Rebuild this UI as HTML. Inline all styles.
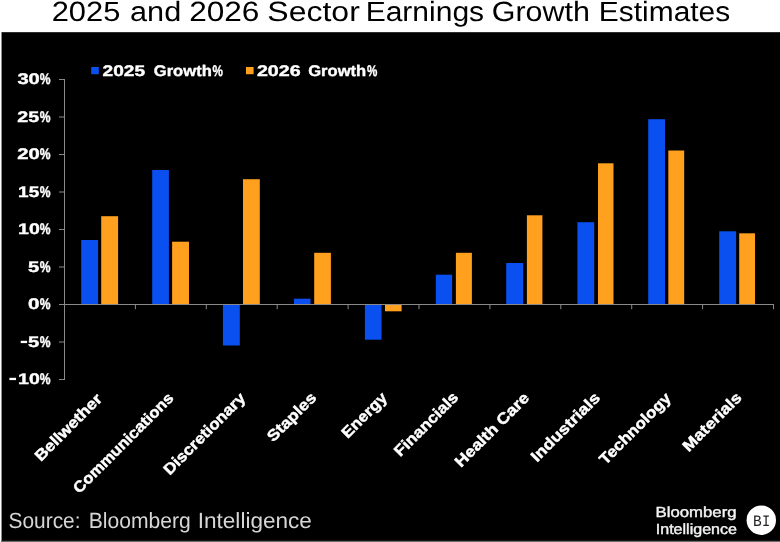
<!DOCTYPE html>
<html><head><meta charset="utf-8"><title>2025 and 2026 Sector Earnings Growth Estimates</title>
<style>
html,body{margin:0;padding:0;background:#fff;}
body{width:780px;height:542px;overflow:hidden;font-family:"Liberation Sans",sans-serif;}
svg{display:block;will-change:transform;}
text{font-family:"Liberation Sans",sans-serif;text-rendering:geometricPrecision;}
</style></head><body>
<svg width="780" height="542" viewBox="0 0 780 542">
<rect x="0" y="0" width="780" height="542" fill="#ffffff"/>
<rect x="1" y="32.3" width="779" height="509.7" fill="#6a6a6a"/>
<rect x="1" y="32.3" width="1" height="508.5" fill="#8c8c8c"/>
<rect x="2" y="32.3" width="778" height="508.5" fill="#000000"/>
<g>
<text x="51.7" y="21" font-size="27.8" fill="#000" textLength="68.66" lengthAdjust="spacingAndGlyphs">2025</text>
<text x="130.07" y="21" font-size="27.8" fill="#000" textLength="51.13" lengthAdjust="spacingAndGlyphs">and</text>
<text x="189.16" y="21" font-size="27.8" fill="#000" textLength="70.28" lengthAdjust="spacingAndGlyphs">2026</text>
<text x="267.36" y="21" font-size="27.8" fill="#000" textLength="92.45" lengthAdjust="spacingAndGlyphs">Sector</text>
<text x="365.67" y="21" font-size="27.8" fill="#000" textLength="118.47" lengthAdjust="spacingAndGlyphs">Earnings</text>
<text x="491.72" y="21" font-size="27.8" fill="#000" textLength="98.1" lengthAdjust="spacingAndGlyphs">Growth</text>
<text x="598.88" y="21" font-size="27.8" fill="#000" textLength="131.3" lengthAdjust="spacingAndGlyphs">Estimates</text>
</g>
<g fill="#8a8a8a">
<rect x="64" y="79" width="1" height="301"/>
<rect x="59" y="79.0" width="5" height="1"/>
<rect x="59" y="116.5" width="5" height="1"/>
<rect x="59" y="154.0" width="5" height="1"/>
<rect x="59" y="191.5" width="5" height="1"/>
<rect x="59" y="229.0" width="5" height="1"/>
<rect x="59" y="266.5" width="5" height="1"/>
<rect x="59" y="304.0" width="5" height="1"/>
<rect x="59" y="341.5" width="5" height="1"/>
<rect x="59" y="379.0" width="5" height="1"/>
<rect x="64" y="304" width="710" height="1"/>
<rect x="134.9" y="305" width="1" height="4.2"/>
<rect x="205.8" y="305" width="1" height="4.2"/>
<rect x="276.7" y="305" width="1" height="4.2"/>
<rect x="347.6" y="305" width="1" height="4.2"/>
<rect x="418.5" y="305" width="1" height="4.2"/>
<rect x="489.4" y="305" width="1" height="4.2"/>
<rect x="560.3" y="305" width="1" height="4.2"/>
<rect x="631.2" y="305" width="1" height="4.2"/>
<rect x="702.1" y="305" width="1" height="4.2"/>
<rect x="773.0" y="305" width="1" height="4.2"/>
</g>
<rect x="81.2" y="240.0" width="16.9" height="64.0" fill="#0a50f0"/>
<rect x="101.2" y="216.2" width="16.9" height="87.8" fill="#ffa01e"/>
<rect x="152.2" y="170.0" width="16.7" height="134.0" fill="#0a50f0"/>
<rect x="172.1" y="241.7" width="16.9" height="62.3" fill="#ffa01e"/>
<rect x="222.9" y="305" width="16.9" height="40.5" fill="#0a50f0"/>
<rect x="243.0" y="179.2" width="16.8" height="124.8" fill="#ffa01e"/>
<rect x="294.0" y="298.7" width="16.5" height="5.3" fill="#0a50f0"/>
<rect x="314.2" y="252.8" width="16.7" height="51.2" fill="#ffa01e"/>
<rect x="364.9" y="305" width="16.6" height="34.7" fill="#0a50f0"/>
<rect x="385.0" y="305" width="16.6" height="6.3" fill="#ffa01e"/>
<rect x="435.8" y="274.7" width="16.3" height="29.3" fill="#0a50f0"/>
<rect x="455.9" y="252.8" width="16.0" height="51.2" fill="#ffa01e"/>
<rect x="506.2" y="263.0" width="17.0" height="41.0" fill="#0a50f0"/>
<rect x="526.9" y="215.3" width="15.5" height="88.7" fill="#ffa01e"/>
<rect x="577.4" y="222.2" width="16.8" height="81.8" fill="#0a50f0"/>
<rect x="598.0" y="163.3" width="15.5" height="140.7" fill="#ffa01e"/>
<rect x="648.2" y="119.2" width="16.8" height="184.8" fill="#0a50f0"/>
<rect x="668.3" y="150.5" width="15.9" height="153.5" fill="#ffa01e"/>
<rect x="719.2" y="231.3" width="16.9" height="72.7" fill="#0a50f0"/>
<rect x="739.2" y="233.3" width="15.8" height="70.7" fill="#ffa01e"/>
<g font-weight="bold" stroke="#fff" stroke-width="0.4">
<text x="17.4" y="84" font-size="15.4" fill="#fff" textLength="22.42" lengthAdjust="spacingAndGlyphs">30</text>
<text x="39.66" y="84" font-size="15.4" fill="#fff" textLength="10.76" lengthAdjust="spacingAndGlyphs">%</text>
<text x="17.34" y="122" font-size="15.4" fill="#fff" textLength="21.9" lengthAdjust="spacingAndGlyphs">25</text>
<text x="39.66" y="122" font-size="15.4" fill="#fff" textLength="10.76" lengthAdjust="spacingAndGlyphs">%</text>
<text x="17.33" y="159" font-size="15.4" fill="#fff" textLength="22.5" lengthAdjust="spacingAndGlyphs">20</text>
<text x="39.66" y="159" font-size="15.4" fill="#fff" textLength="10.76" lengthAdjust="spacingAndGlyphs">%</text>
<text x="18.11" y="197" font-size="15.4" fill="#fff" textLength="21.13" lengthAdjust="spacingAndGlyphs">15</text>
<text x="39.66" y="197" font-size="15.4" fill="#fff" textLength="10.76" lengthAdjust="spacingAndGlyphs">%</text>
<text x="18.08" y="234" font-size="15.4" fill="#fff" textLength="21.72" lengthAdjust="spacingAndGlyphs">10</text>
<text x="39.66" y="234" font-size="15.4" fill="#fff" textLength="10.76" lengthAdjust="spacingAndGlyphs">%</text>
<text x="28.1" y="272" font-size="15.4" fill="#fff" textLength="11.27" lengthAdjust="spacingAndGlyphs">5</text>
<text x="39.66" y="272" font-size="15.4" fill="#fff" textLength="10.76" lengthAdjust="spacingAndGlyphs">%</text>
<text x="28.07" y="309" font-size="15.4" fill="#fff" textLength="11.51" lengthAdjust="spacingAndGlyphs">0</text>
<text x="39.66" y="309" font-size="15.4" fill="#fff" textLength="10.76" lengthAdjust="spacingAndGlyphs">%</text>
<text x="28.1" y="347" font-size="15.4" fill="#fff" textLength="11.27" lengthAdjust="spacingAndGlyphs">5</text>
<text x="39.66" y="347" font-size="15.4" fill="#fff" textLength="10.76" lengthAdjust="spacingAndGlyphs">%</text>
<rect x="20.7" y="340.8" width="6.4" height="2.3" fill="#fff" stroke="none"/>
<text x="18.08" y="384" font-size="15.4" fill="#fff" textLength="21.72" lengthAdjust="spacingAndGlyphs">10</text>
<text x="39.66" y="384" font-size="15.4" fill="#fff" textLength="10.76" lengthAdjust="spacingAndGlyphs">%</text>
<rect x="9.4" y="377.8" width="6.6" height="2.3" fill="#fff" stroke="none"/>
</g>
<rect x="91.2" y="67" width="7.6" height="7.2" fill="#0a50f0"/>
<rect x="246" y="67" width="7.6" height="7.2" fill="#ffa01e"/>
<g font-weight="bold" stroke="#fff" stroke-width="0.4">
<text x="102.56" y="76" font-size="15.4" fill="#fff" textLength="42.56" lengthAdjust="spacingAndGlyphs">2025</text>
<text x="153.79" y="76" font-size="15.4" fill="#fff" textLength="58.0" lengthAdjust="spacingAndGlyphs">Growth</text>
<text x="212.57" y="76" font-size="15.4" fill="#fff" textLength="10.34" lengthAdjust="spacingAndGlyphs">%</text>
<text x="256.94" y="76" font-size="15.4" fill="#fff" textLength="43.68" lengthAdjust="spacingAndGlyphs">2026</text>
<text x="308.19" y="76" font-size="15.4" fill="#fff" textLength="58.0" lengthAdjust="spacingAndGlyphs">Growth</text>
<text x="366.97" y="76" font-size="15.4" fill="#fff" textLength="10.34" lengthAdjust="spacingAndGlyphs">%</text>
</g>
<g font-weight="bold" fill="#fff" font-size="15.5" stroke="#fff" stroke-width="0.45">
<text transform="translate(102.93,399.96) rotate(-45)" x="-87.76" y="0" textLength="87.76" lengthAdjust="spacingAndGlyphs">Bellwether</text>
<text transform="translate(174.55,399.04) rotate(-45)" x="-134.67" y="0" textLength="134.67" lengthAdjust="spacingAndGlyphs">Communications</text>
<text transform="translate(246.34,399.06) rotate(-45)" x="-108.43" y="0" textLength="108.43" lengthAdjust="spacingAndGlyphs">Discretionary</text>
<text transform="translate(317.27,398.66) rotate(-45)" x="-62.16" y="0" textLength="62.16" lengthAdjust="spacingAndGlyphs">Staples</text>
<text transform="translate(388.15,398.7) rotate(-45)" x="-57.04" y="0" textLength="57.04" lengthAdjust="spacingAndGlyphs">Energy</text>
<text transform="translate(459.3,398.3) rotate(-45)" x="-83.37" y="0" textLength="83.37" lengthAdjust="spacingAndGlyphs">Financials</text>
<text transform="translate(530.25,398.77) rotate(-45)" x="-97.98" y="0" textLength="97.98" lengthAdjust="spacingAndGlyphs">Health Care</text>
<text transform="translate(600.95,398.81) rotate(-45)" x="-90.58" y="0" textLength="90.58" lengthAdjust="spacingAndGlyphs">Industrials</text>
<text transform="translate(671.87,399.01) rotate(-45)" x="-93.86" y="0" textLength="93.86" lengthAdjust="spacingAndGlyphs">Technology</text>
<text transform="translate(742.61,398.57) rotate(-45)" x="-76.13" y="0" textLength="76.13" lengthAdjust="spacingAndGlyphs">Materials</text>
</g>
<text x="8.49" y="528" font-size="22" fill="#d6d6d6" textLength="72.04" lengthAdjust="spacingAndGlyphs">Source:</text>
<text x="88.8" y="528" font-size="22" fill="#d6d6d6" textLength="102.05" lengthAdjust="spacingAndGlyphs">Bloomberg</text>
<text x="197.74" y="528" font-size="22" fill="#d6d6d6" textLength="114.18" lengthAdjust="spacingAndGlyphs">Intelligence</text>
<text x="655.5" y="517" font-size="14.7" fill="#f4f4f4" textLength="81.03" lengthAdjust="spacingAndGlyphs" stroke="#f4f4f4" stroke-width="0.4">Bloomberg</text>
<text x="655.78" y="534" font-size="14.7" fill="#f4f4f4" textLength="81.2" lengthAdjust="spacingAndGlyphs" stroke="#f4f4f4" stroke-width="0.4">Intelligence</text>
<circle cx="761.3" cy="520.2" r="14.7" fill="#ffffff"/>
<text x="752.93" y="526" font-size="16" style="font-family:'Liberation Mono',monospace" fill="#222" textLength="8.69" lengthAdjust="spacingAndGlyphs">B</text>
<text x="761.93" y="526" font-size="16" style="font-family:'Liberation Mono',monospace" fill="#222" textLength="8.19" lengthAdjust="spacingAndGlyphs">I</text>
</svg></body></html>
